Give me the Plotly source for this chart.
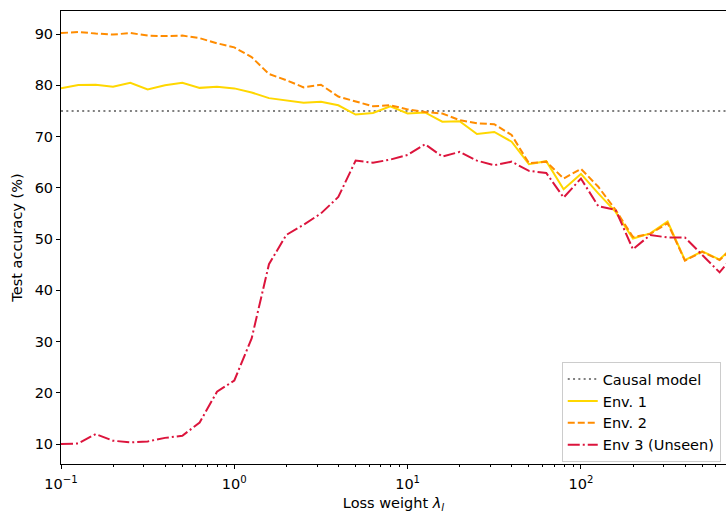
import numpy as np
import plotly.graph_objects as go

# Loss-weight grid: ten points per decade, starting at 0.1
log_lambda = [-1.0 + 0.1 * k for k in range(40)]
lam = [10 ** v for v in log_lambda]

causal_acc = 75.0

env1 = [79.4, 80.05, 80.1, 79.7, 80.5, 79.2, 80.0, 80.5, 79.5, 79.7,
        79.4, 78.6, 77.5, 77.0, 76.6, 76.8, 76.1, 74.3, 74.6, 75.9,
        74.5, 74.7, 72.9, 73.0, 70.5, 70.9, 69.0, 64.6, 65.2, 59.7,
        62.7, 58.9, 55.3, 50.1, 51.1, 53.4, 45.9, 47.6, 46.0, 49.2]

env2 = [90.2, 90.4, 90.1, 89.9, 90.2, 89.7, 89.6, 89.7, 89.2, 88.2,
        87.4, 85.5, 82.2, 81.0, 79.6, 80.1, 77.8, 76.8, 75.9, 76.1,
        75.3, 74.8, 74.5, 73.2, 72.6, 72.4, 70.3, 64.8, 65.1, 61.8,
        63.7, 60.2, 55.7, 50.4, 51.0, 53.1, 45.8, 47.5, 45.9, 49.0]

env3 = [10.0, 10.1, 11.95, 10.65, 10.3, 10.5, 11.2, 11.6, 14.2, 20.2,
        22.4, 30.6, 45.1, 50.8, 52.8, 55.0, 58.2, 65.3, 64.9, 65.5,
        66.4, 68.5, 66.1, 67.0, 65.3, 64.4, 65.1, 63.3, 62.9, 58.1,
        61.8, 56.4, 55.7, 48.0, 50.8, 50.3, 50.3, 47.0, 43.5, 47.6]

# Axis ticks
x_major = [0.1, 1, 10, 100]
x_major_text = ["10<sup>−1</sup>", "10<sup>0</sup>", "10<sup>1</sup>", "10<sup>2</sup>"]
x_minor = [m * d for d in (0.1, 1, 10, 100) for m in range(2, 10)]
y_ticks = [10, 20, 30, 40, 50, 60, 70, 80, 90]

FONT = "DejaVu Sans"
FS = 14.5
X_RANGE = [-1, 2.837]

fig = go.Figure()

fig.add_trace(go.Scatter(
    x=[0.1, 1000], y=[causal_acc, causal_acc], mode="lines",
    name="Causal model",
    line=dict(color="#808080", width=2, dash="2px,3.3px"),
))
fig.add_trace(go.Scatter(
    x=lam, y=env1, mode="lines", name="Env. 1",
    line=dict(color="#FFD700", width=2),
))
fig.add_trace(go.Scatter(
    x=lam, y=env2, mode="lines", name="Env. 2",
    line=dict(color="#FF8C00", width=2, dash="7px,3px"),
))
fig.add_trace(go.Scatter(
    x=lam, y=env3, mode="lines", name="Env 3 (Unseen)",
    line=dict(color="#DC143C", width=2, dash="12px,3px,2px,3px"),
))

fig.update_layout(
    width=726, height=513,
    margin=dict(l=61, r=0, t=11, b=49),
    paper_bgcolor="white", plot_bgcolor="white",
    font=dict(family=FONT, size=FS, color="black"),
    showlegend=True,
    legend=dict(
        x=0.753, y=0.004, xanchor="left", yanchor="bottom",
        bgcolor="rgba(255,255,255,0.8)", bordercolor="#cccccc", borderwidth=1,
        font=dict(family=FONT, size=FS, color="black"),
        tracegroupgap=0,
    ),
    # second x axis carries only the minor log ticks
    xaxis2=dict(
        type="log", range=X_RANGE, overlaying="x", side="bottom",
        anchor="y", tickvals=x_minor, showticklabels=False,
        ticks="outside", ticklen=2, tickcolor="black",
        showgrid=False, zeroline=False, showline=False,
    ),
)

fig.layout.xaxis.update(
    type="log", range=X_RANGE,
    tickvals=x_major, ticktext=x_major_text,
    showgrid=False, zeroline=False,
    showline=True, linecolor="black", linewidth=1, mirror=True,
    ticks="outside", ticklen=4, tickcolor="black", ticklabelstandoff=3,
    tickfont=dict(family=FONT, size=FS, color="black"),
    title=dict(text="Loss weight <i>λ</i><sub><i>l</i></sub>",
               font=dict(family=FONT, size=FS, color="black"), standoff=6),
)
fig.update_yaxes(
    range=[6.1, 94.5], tickvals=y_ticks,
    showgrid=False, zeroline=False,
    showline=True, linecolor="black", linewidth=1,
    ticks="outside", ticklen=4, tickcolor="black",
    tickfont=dict(family=FONT, size=FS, color="black"),
    title=dict(text="Test accuracy (%)",
               font=dict(family=FONT, size=FS, color="black"), standoff=8),
)

# invisible trace so the minor-tick axis is rendered
fig.add_trace(go.Scatter(x=[lam[0]], y=[env1[0]], xaxis="x2", mode="none",
                         showlegend=False, hoverinfo="skip"))

fig.write_html("out.html")
